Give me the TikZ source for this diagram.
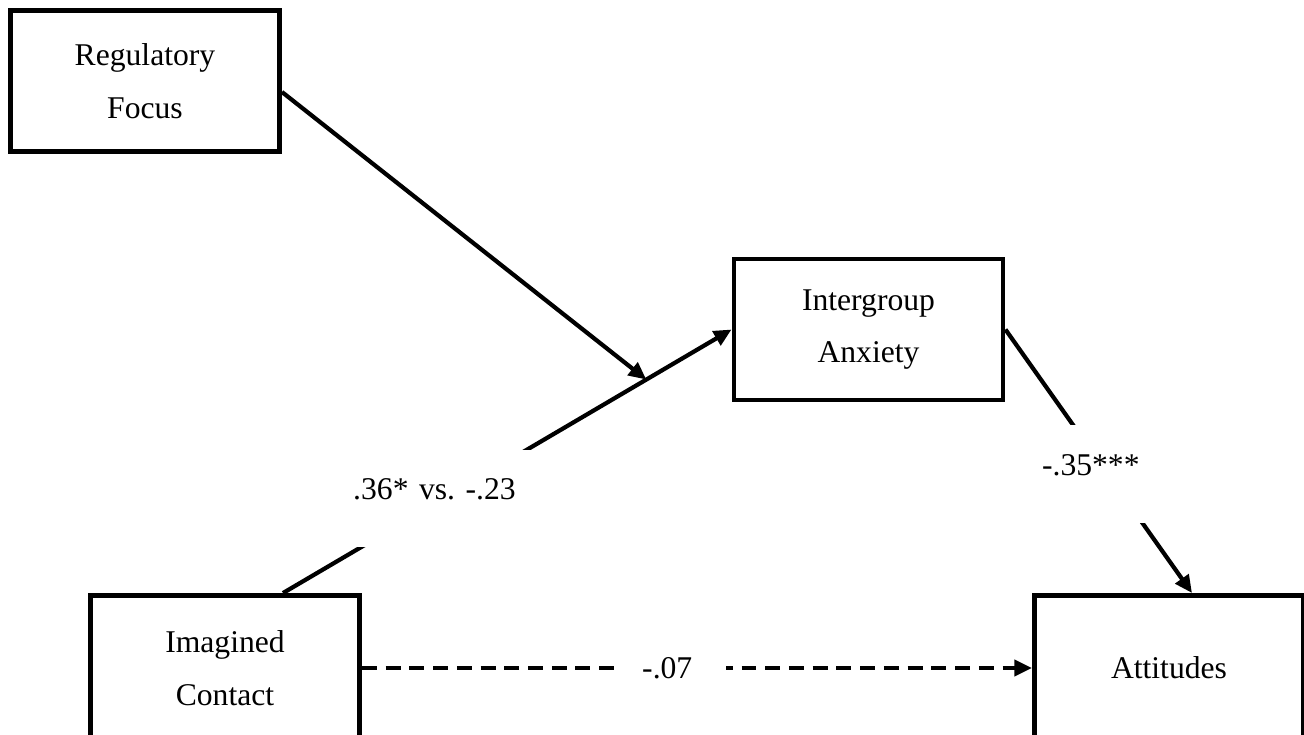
\documentclass[tikz,border=0pt]{standalone}
\usepackage{fontspec}
\setmainfont{Liberation Serif}
\usetikzlibrary{arrows.meta}
\begin{document}
\begin{tikzpicture}[>={Triangle[length=10pt,width=9pt]},
 every node/.style={font=\fontsize{18}{30}\selectfont},
 var/.style={draw,line width=2.8pt,minimum width=5.38cm,minimum height=2.82cm,align=center},
 link/.style={line width=2.4pt,->},
 coef/.style={fill=white,align=left}]
 \useasboundingbox (0,0) rectangle (26.08,-14.7);
 \node[var] (rf) at (2.9,-1.62) {Regulatory\\Focus};
 \node[var] (ia) at (17.37,-6.59) {Intergroup\\Anxiety};
 \node[var,minimum height=2.9cm] (ic) at (4.5,-13.36) {Imagined\\Contact};
 \node[var,minimum height=2.9cm] (at) at (23.38,-13.36) {Attitudes};
 \draw[link] ([xshift=1.16cm]ic.north) -- node[coef,pos=0.36,text width=3.65cm,minimum height=1.94cm,text depth=0.36cm] (c1) {.36* vs.\ -.23} coordinate[pos=0.81] (mod) (ia.west);
 \draw[link] ([yshift=-0.22cm]rf.east) -- (mod);
 \draw[link] (ia.east) -- node[coef,pos=0.55,text width=2.64cm,minimum height=1.96cm,text depth=0.36cm] (c2) {-.35***} ([xshift=0.46cm]at.north);
 \draw[link,dash pattern=on 8.5pt off 5pt] (ic.east) -- node[coef,pos=0.466,text width=1.28cm,minimum width=2.08cm] (c3) {-.07} (at.west);
\end{tikzpicture}
\end{document}
